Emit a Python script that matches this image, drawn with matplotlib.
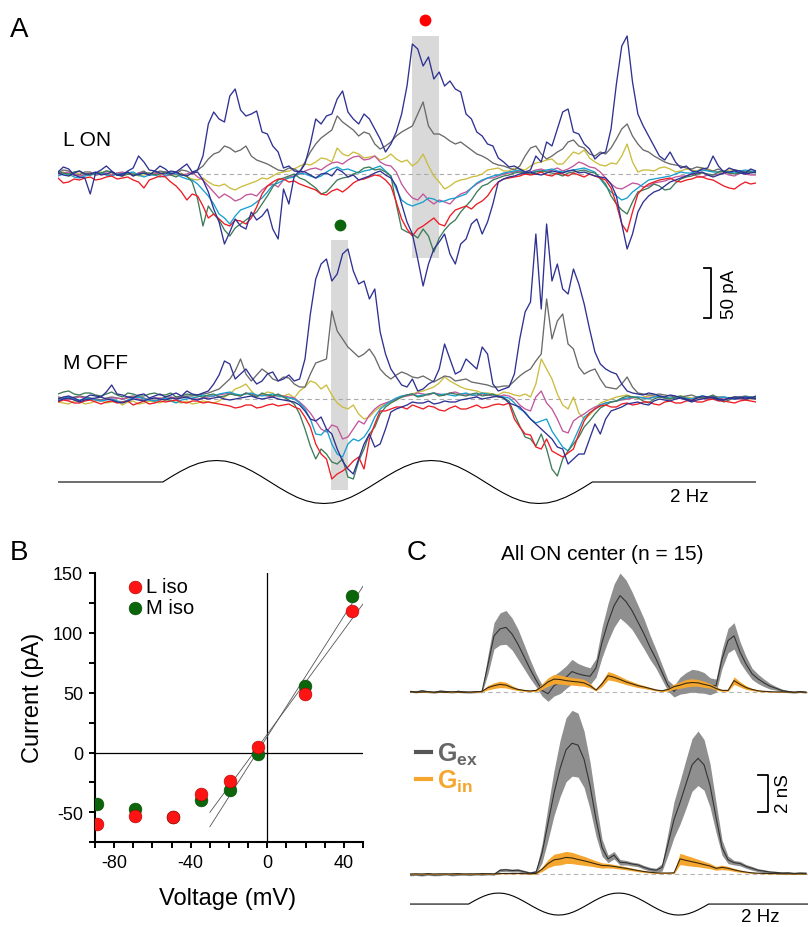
import numpy as np
import matplotlib.pyplot as plt
from matplotlib.lines import Line2D
from matplotlib.patches import Rectangle

plt.rcParams['font.family'] = ['Liberation Sans', 'DejaVu Sans']
plt.rcParams['axes.unicode_minus'] = False
plt.rcParams['mathtext.fontset'] = 'custom'
plt.rcParams['mathtext.rm'] = 'Liberation Sans'
plt.rcParams['mathtext.bf'] = 'Liberation Sans:bold'

W, H = 808, 928
dt = 0.025  # s per sample (panel C); panel A traces also have mid-samples

# ---------------- panel A: currents (pA, relative to baseline) ----------------
# *_mid hold the samples halfway between the main samples
lon_navy_pos = [2, 5, -3, -20, 4, 3, -2, 6, 12, 3, 5, 2, 10, 4,
                50, 55, 78, 64, 60, 42, 28, 6, 3, 10,
                55, 58, 75, 62, 50, 55, 35, 30, 60, 130,
                108, 95, 88, 85, 60, 42, 30, 16, 7, 5,
                4, 12, 28, 62, 42, 30, 15, 22, 90, 138,
                60, 38, 18, 22, 6, 3, 5, 18, 2, 4, 1, 3]
lon_navy_pos_mid = [7, -1, -4, 1, 8, -1, 3, 18, 4, 8, 0, 6, 2, 18, 62, 52, 85, 58, 63, 40,
                    22, 8, 2, 30, 50, 60, 83, 55, 60, 45, 22, 42, 88, 125, 117, 102, 93, 82, 55, 38,
                    28, 12, 8, 2, 18, 32, 45, 65, 40, 25, 20, 45, 128, 92, 48, 28, 14, 12, 8, 2,
                    6, 8, 6, 3, 5]
lon_gray = [1, 3, -1, 2, 0, 2, 1, -2, 3, 1, 2, 0, 3, 4,
            15, 22, 26, 24, 18, 12, 7, 3, 5, 12,
            30, 40, 58, 48, 38, 40, 25, 32, 42, 48,
            72, 40, 37, 30, 28, 20, 15, 9, 6, 8,
            26, 20, 18, 25, 34, 26, 18, 20, 35, 50,
            30, 22, 15, 10, 8, 5, 6, 3, 2, 4, 2, 3]
lon_gray_mid = [4, 0, 2, -1, 3, -1, 2, 1, -1, 3, 1, 4, 0, 8, 20, 28, 22, 28, 14, 10,
                4, 6, 2, 22, 36, 44, 52, 44, 42, 30, 28, 38, 45, 60, 48, 40, 33, 32, 24, 18,
                11, 8, 4, 18, 28, 15, 22, 32, 28, 20, 22, 26, 45, 38, 24, 18, 12, 9, 6, 7,
                4, 5, 1, 3, 2]
lon_yellow = [0, -2, 1, -1, 2, 0, -2, 1, -1, 0, 2, -1, -3, -6,
              -8, -12, -14, -13, -9, -4, -2, 2, 5, 10,
              12, 15, 26, 18, 20, 17, 14, 20, 12, 8,
              20, -2, -15, -8, -5, -2, 4, 6, 3, 5,
              8, 12, 15, 10, 22, 24, 12, 8, 10, 30,
              2, 4, 6, 5, 3, 4, 6, 3, 2, 4, 3, 2]
lon_yellow_mid = [2, -1, 0, 1, -1, 1, 0, -2, 1, -1, 0, 1, -5, -4, -11, -10, -16, -11, -7, -5,
                  1, 3, 8, 9, 16, 12, 20, 22, 16, 18, 16, 15, 14, 12, 8, -8, -12, -6, -3, 0,
                  5, 3, 6, 4, 11, 14, 10, 16, 20, 16, 9, 11, 18, 12, 4, 3, 7, 2, 5, 3,
                  5, 2, 4, 2, 3]
lon_magenta = [0, 2, -2, 1, 0, -1, 2, -1, 1, 0, -2, 1, 0, -3,
               -12, -24, -23, -25, -20, -16, -10, -6, -2, 3,
               6, 8, 12, 14, 18, 15, 12, 8, -10, -24,
               -20, -30, -28, -24, -18, -10, -4, -2, 1, 3,
               2, 5, 4, 3, 8, 10, 6, -4, -14, -12,
               -10, -12, -8, -5, -2, 0, -3, -1, 1, -2, 0, -1]
lon_magenta_mid = [1, 0, -1, -1, 1, 1, 0, 1, -1, 1, -1, -1, 2, -6, -18, -20, -27, -21, -22, -12,
                   -13, -3, 0, 5, 4, 11, 10, 17, 14, 18, 9, 2, -18, -26, -26, -26, -30, -20, -14, -7,
                   -4, 0, 2, 1, 4, 3, 6, 5, 12, 7, 2, -10, -15, -9, -13, -9, -7, -3, -2, -2,
                   -1, 0, -1, 1, -1]
lon_cyan = [-2, 0, -4, -1, 1, -2, 0, 2, -3, -1, -2, 0, -5, -10,
            -22, -40, -50, -36, -32, -24, -11, -6, -3, 0,
            -4, 2, 7, 5, 1, 4, 8, -2, -26, -32,
            -28, -25, -27, -24, -20, -9, -4, -1, 2, 4,
            1, 3, 5, 2, 4, 6, 2, -12, -22, -24,
            -14, -6, -4, -2, 2, 1, 4, 2, 3, 1, 4, 2]
lon_cyan_mid = [0, -3, -2, 0, -1, 0, 1, -1, -1, -3, 1, -3, -6, -16, -30, -44, -42, -34, -28, -18,
                -9, -4, 1, -2, -2, 5, 4, 3, 3, 6, 3, -15, -30, -30, -24, -28, -25, -22, -14, -6,
                -2, 1, 3, 2, 3, 4, 3, 3, 5, 4, -5, -18, -26, -18, -10, -5, -3, 0, 1, 3,
                3, 2, 2, 3, 3]
lon_green = [2, 0, 3, -1, 1, 2, -2, 0, 1, -1, 2, -3, -2, -25,
             -32, -46, -62, -50, -42, -30, -13, -4, 0, -6,
             -14, -18, -6, -3, 2, 7, 5, -2, -55, -60,
             -55, -78, -56, -46, -32, -18, -10, -4, -1, 2,
             0, 3, 1, -2, 2, 4, 1, -10, -30, -40,
             -18, -14, -12, -15, -5, -2, 1, -1, 3, 0, 2, 1]
lon_green_mid = [1, 2, 0, 1, 3, -1, 0, -1, 1, 0, -1, 0, -8, -52, -40, -56, -54, -46, -38, -22,
                 -6, -2, -4, -10, -20, -12, -4, 0, 6, 4, 2, -30, -58, -64, -62, -64, -50, -38, -26, -12,
                 -6, -2, 1, 1, 2, 2, 0, 1, 3, 2, -4, -22, -36, -28, -16, -10, -16, -9, -3, 0,
                 0, 2, 1, 1, 2]
lon_red = [-4, -8, -6, -3, -5, -2, -4, -6, -14, -4, -3, -12, -26, -22,
           -44, -45, -52, -47, -44, -20, -8, -5, -7, -12,
           -16, -21, -15, -14, -6, -3, -2, -12, -45, -62,
           -52, -44, -52, -36, -32, -30, -22, -8, -4, -2,
           -1, 2, -2, 0, 1, -3, -2, -6, -30, -58,
           -20, -10, -6, -4, -8, -5, -3, -6, -12, -15, -8, -9]
lon_red_mid = [-9, -5, -4, -6, -3, -5, -3, -8, -6, -2, -8, -18, -20, -32, -40, -50, -46, -50, -33, -12,
               -5, -8, -10, -14, -20, -17, -18, -9, -5, -1, -6, -28, -55, -55, -48, -50, -42, -34, -35, -27,
               -14, -5, -3, 0, 0, -1, 1, -2, -1, 0, -4, -14, -50, -38, -14, -8, -5, -7, -6, -3,
               -5, -9, -14, -11, -10]
lon_navy_neg = [1, -2, 3, 0, -1, 2, 0, -2, 1, 3, 0, 2, -2, 2,
                -18, -48, -58, -52, -38, -42, -55, -15, -2, 2,
                -4, 1, 5, -3, -6, -2, 3, -4, -30, -60,
                -112, -75, -60, -90, -65, -45, -48, -8, -3, 0,
                2, -1, 3, 1, 4, 2, -2, -4, -22, -75,
                -38, -22, -16, -8, -4, 0, 2, -3, 1, 3, 0, 2]
lon_navy_neg_mid = [-1, 1, 0, 2, 0, -1, 2, 0, -1, 1, 3, -1, 1, -6, -35, -70, -45, -55, -46, -35,
                    -65, -30, 3, -1, 0, -2, 2, -1, -4, 1, -1, -12, -48, -85, -90, -68, -80, -70, -50, -60,
                    -30, -5, -2, 1, 0, 1, 2, 3, 1, 0, -3, -10, -50, -60, -28, -18, -12, -6, -2, 1,
                    -1, -1, 2, 1, 1]

moff_navy_pos = [0, 3, -2, 4, 2, 14, 4, 1, 5, 3, 2, 6, 8, 4,
                 8, 24, 35, 25, 22, 18, 27, 20, 18, 40,
                 120, 140, 125, 150, 115, 100, 67, 30, 14, 20,
                 10, 18, 55, 25, 40, 30, 45, 8, 12, 60,
                 97, 90, 118, 110, 130, 95, 47, 30, 25, 8,
                 5, 6, 3, 4, 1, -2, 3, 1, -1, 2, 0, 3]
moff_navy_pos_mid = [2, 1, 1, 3, 7, 5, 2, 4, 1, 5, 4, 3, 5, 6, 15, 38, 20, 30, 15, 25,
                     18, 24, 20, 85, 135, 118, 145, 128, 118, 110, 45, 22, 12, 8, 15, 30, 40, 28, 35, 52,
                     15, 10, 25, 87, 165, 175, 135, 105, 115, 70, 35, 27, 15, 6, 4, 5, 2, 3, 0, 1,
                     2, -1, 1, 2, 1]
moff_gray = [2, 0, 3, 1, -1, 2, 0, 3, 1, -2, 2, 1, 3, 4,
             6, 10, 20, 40, 18, 30, 20, 22, 15, 12,
             36, 40, 68, 52, 42, 50, 30, 20, 27, 22,
             23, 17, 23, 18, 20, 16, 14, 12, 13, 23,
             30, 45, 60, 85, 50, 25, 30, 12, 10, 22,
             6, 4, 5, 3, 2, 4, 1, 3, 2, 0, 3, 1]
moff_gray_mid = [1, 2, 2, 0, 1, 1, 2, 2, -1, 0, 2, 2, 3, 5, 8, 15, 28, 25, 24, 26,
                 18, 21, 12, 25, 38, 88, 60, 47, 45, 42, 24, 24, 25, 21, 20, 20, 22, 19, 17, 15,
                 12, 13, 18, 27, 38, 100, 78, 55, 32, 28, 20, 11, 15, 12, 5, 4, 4, 2, 3, 2,
                 2, 2, 1, 2, 2]
moff_yellow = [-3, -5, -2, -4, -1, -3, -6, -2, -4, -3, -1, -3, -2, -4,
               -3, -2, 5, 12, 8, 4, 6, 3, 1, 12,
               16, 14, -4, -10, -15, -18, -8, -3, 2, 5,
               8, 12, 22, 15, 10, 8, 6, 4, 6, 3,
               2, 40, 20, -6, 2, -20, -10, -2, 2, 4,
               1, 3, 2, 0, 3, 1, 2, 0, -1, 2, 0, 1]
moff_yellow_mid = [-4, -2, -5, -2, -4, -2, -3, -5, -2, -4, -2, -4, -5, -2, -4, 2, 10, 15, 3, 7,
                   2, 5, 8, 18, 10, 4, -8, -6, -20, -12, -5, -1, 4, 7, 10, 16, 18, 12, 9, 6,
                   5, 7, 4, 5, 15, 30, 5, -10, -14, -16, -4, 0, 3, 2, 2, 3, 1, 2, 2, 1,
                   1, -1, 1, 1, 0]
moff_magenta = [1, -1, 2, 0, -2, 1, 0, 2, -1, 1, 0, 2, 1, 0,
                2, 4, 6, 3, 5, 4, 2, 3, 1, -8,
                -22, -33, -28, -38, -22, -16, -6, -2, 2, 4,
                5, 6, 4, 7, 5, 3, 4, 2, 3, -6,
                -12, 8, -10, -32, -22, -15, -8, -4, -2, 0,
                2, 1, 3, 0, 2, -1, 1, 2, 0, 1, -1, 0]
moff_magenta_mid = [0, 1, 1, -1, 0, 1, 1, 0, 0, 1, 1, 2, 0, 1, 3, 5, 4, 6, 3, 3,
                    4, 2, -3, -14, -30, -26, -40, -30, -25, -10, -4, 0, 3, 6, 4, 5, 6, 5, 4, 5,
                    3, 4, 0, -10, 2, -4, -20, -34, -18, -11, -6, -3, -1, 1, 1, 2, 1, 1, 0, 1,
                    0, 1, 0, 0, 1]
moff_cyan = [0, 2, -1, 1, -2, 0, -3, 1, 0, -2, 1, -4, 0, 2,
             3, 5, 7, 4, 6, 3, 5, 2, 0, -10,
             -35, -30, -55, -45, -42, -30, -10, -2, 3, 5,
             4, 6, 5, 3, 6, 4, 5, 3, 1, -10,
             -20, -22, -32, -48, -42, -18, -10, -4, -2, 1,
             2, 0, 3, 1, 2, 0, 3, 1, 2, 0, 2, 1]
moff_cyan_mid = [1, 0, 0, -1, -1, -2, -1, 2, -1, -1, -2, -1, 1, 4, 3, 6, 5, 5, 4, 4,
                 3, 1, -4, -20, -36, -45, -58, -40, -38, -18, -6, 1, 4, 3, 5, 4, 4, 5, 4, 6,
                 4, 2, -4, -13, -24, -20, -40, -52, -30, -14, -6, -3, 0, 2, 1, 2, 2, 1, 1, 2,
                 2, 1, 1, 1, 2]
moff_green = [5, 8, 4, 6, 3, 7, 2, 5, 3, 6, 4, 2, 5, 3,
              4, 2, 5, 3, 4, 6, 3, 2, -5, -30,
              -60, -55, -65, -78, -62, -35, -15, -4, 2, 5,
              3, 6, 4, 5, 3, 6, 4, 2, -2, -27,
              -40, -35, -70, -60, -45, -28, -15, -6, -2, 3,
              1, -4, 2, 0, 3, -2, 1, 4, -3, 2, 0, 1]
moff_green_mid = [7, 5, 6, 4, 5, 4, 6, 3, 5, 4, 6, 3, 4, 2, 5, 3, 4, 6, 2, 4,
                  5, -1, -15, -47, -50, -63, -60, -80, -50, -28, -8, -1, 4, 2, 5, 3, 6, 4, 5, 3,
                  5, 1, -15, -38, -47, -50, -77, -52, -38, -22, -9, -3, 1, 2, -2, 0, 1, 2, 0, 2,
                  2, 0, -1, 1, 2]
moff_red = [-3, -2, -4, -1, -5, -2, -3, -6, -2, -4, -3, -1, -4, -2,
            -3, -5, -7, -8, -6, -8, -5, -6, -8, -18,
            -45, -60, -75, -68, -58, -40, -12, -10, -8, -6,
            -10, -8, -12, -7, -10, -6, -8, -5, -4, -28,
            -36, -50, -52, -58, -50, -22, -10, -6, -8, -4,
            -5, -3, -6, -2, -4, -1, -3, 0, -2, -4, -1, -3]
moff_red_mid = [-1, -4, -2, -3, -3, -4, -2, -4, -5, -2, -2, -3, -2, -4, -4, -6, -9, -6, -9, -6,
                -7, -5, -10, -28, -55, -80, -72, -62, -70, -25, -12, -8, -10, -8, -7, -11, -9, -10, -8, -9,
                -6, -6, -20, -35, -48, -40, -55, -54, -35, -14, -7, -8, -5, -6, -3, -5, -3, -4, -2, -3,
                -1, -2, -3, -2, -2]
moff_navy_neg = [-2, 1, -3, 0, 2, -1, -4, 0, -2, 1, -1, 0, 2, -1,
                 0, 2, -1, 1, 3, 0, 2, -1, -3, -12,
                 -22, -30, -50, -70, -60, -35, -45, -13, -8, -3,
                 -4, -5, -2, -3, 0, 2, 1, 3, -4, -8,
                 -20, -30, -40, -50, -60, -55, -25, -20, -10, -5,
                 -3, -6, 0, -2, 1, -3, 0, 2, -1, 0, 2, 0]
moff_navy_neg_mid = [0, -1, -1, 1, 0, -3, -2, -1, 0, 0, 1, 1, 0, 1, 1, 0, 0, 2, 1, 1,
                     0, -2, -6, -20, -18, -35, -62, -75, -45, -48, -30, -10, -6, -4, -2, -4, -3, -1, 1, 0,
                     2, 1, -6, -14, -25, -35, -48, -65, -55, -40, -35, -12, -8, -4, -5, -2, -1, 0, -1, -1,
                     1, 0, 1, 1, 1]

win_lon = [0.824, 0.887]   # analysis windows (s)
win_moff = [0.636, 0.675]

# stimulus: 2 Hz modulation, two cycles
stim_start = 0.244
stim_val = [0, 0.26, 0.5, 0.71, 0.87, 0.97, 1, 0.97, 0.87, 0.71, 0.5, 0.26,
            0, -0.26, -0.5, -0.71, -0.87, -0.97, -1, -0.97, -0.87, -0.71, -0.5, -0.26,
            0, 0.26, 0.5, 0.71, 0.87, 0.97, 1, 0.97, 0.87, 0.71, 0.5, 0.26,
            0, -0.26, -0.5, -0.71, -0.87, -0.97, -1, -0.97, -0.87, -0.71, -0.5, -0.26, 0]

# ---------------- panel B: I-V ----------------
volt = [-89, -69, -49.5, -34.5, -19.5, -5, 19.5, 44.5]
cur_l = [-60, -53, -54, -35, -24, 5, 49, 118]
cur_m = [-43, -47, -54, -40, -31, -1, 56, 131]
fit_v = [-30, 50.4]
fit_l = [-50, 125]
fit_m = [-62, 140]

# ---------------- panel C: conductances (nS) ----------------
top_gex = [0.05, 0.02, 0.08, 0.03, 0.0, 0.06, 0.04, 0.01, 0.05, 0.02, 0.0, 0.03, 0.04,
           1.5, 3.0, 3.37, 3.45, 3.1, 2.55, 1.9, 1.24, 0.65, 0.1,
           -0.08, 0.35, 0.53, 0.8, 1.1, 0.98, 0.9, 0.85, 1.3, 2.66,
           3.72, 4.6, 5.14, 4.82, 4.34, 3.72, 3.1, 2.39, 1.77, 1.06,
           0.35, 0.05, 0.35, 0.5, 0.62, 0.57, 0.5, 0.32, 0.35, 1.77,
           2.75, 3.0, 2.13, 1.5, 0.98, 0.71, 0.5, 0.32, 0.21, 0.09,
           0.04, 0.0, 0.04, 0.0]
top_gex_sem = [0.05, 0.05, 0.06, 0.05, 0.05, 0.06, 0.05, 0.05, 0.06, 0.05, 0.05, 0.05, 0.06,
               0.5, 0.7, 0.85, 0.9, 0.85, 0.8, 0.65, 0.5, 0.35, 0.3,
               0.4, 0.55, 0.6, 0.6, 0.65, 0.55, 0.5, 0.45, 0.5, 0.8,
               1.0, 1.15, 1.2, 1.15, 1.0, 0.9, 0.8, 0.65, 0.5, 0.4,
               0.3, 0.3, 0.45, 0.55, 0.6, 0.6, 0.55, 0.45, 0.35, 0.5,
               0.65, 0.7, 0.55, 0.4, 0.3, 0.25, 0.2, 0.15, 0.1, 0.08,
               0.06, 0.05, 0.05, 0.05]
top_gin = [0.02, 0.0, 0.01, 0.02, 0.0, 0.01, 0.0, 0.02, 0.01, 0.0, 0.01, 0.02, 0.05,
           0.25, 0.35, 0.42, 0.38, 0.25, 0.15, 0.1, 0.07, 0.1, 0.3,
           0.55, 0.7, 0.68, 0.62, 0.58, 0.55, 0.5, 0.35, 0.12, 0.45,
           0.88, 0.8, 0.68, 0.55, 0.45, 0.35, 0.28, 0.2, 0.12, 0.08,
           0.15, 0.3, 0.38, 0.48, 0.52, 0.5, 0.42, 0.35, 0.2, 0.1,
           0.1, 0.62, 0.42, 0.25, 0.15, 0.08, 0.05, 0.03, 0.02, 0.02,
           0.01, 0.0, 0.01, 0.0]
top_gin_sem = [0.02, 0.02, 0.02, 0.02, 0.02, 0.02, 0.02, 0.02, 0.02, 0.02, 0.02, 0.02, 0.03,
               0.12, 0.15, 0.17, 0.15, 0.1, 0.06, 0.05, 0.04, 0.06, 0.15,
               0.22, 0.25, 0.24, 0.22, 0.2, 0.2, 0.18, 0.12, 0.05, 0.15,
               0.22, 0.2, 0.17, 0.14, 0.12, 0.1, 0.08, 0.06, 0.05, 0.04,
               0.08, 0.14, 0.17, 0.2, 0.2, 0.18, 0.16, 0.12, 0.08, 0.05,
               0.05, 0.2, 0.14, 0.1, 0.06, 0.04, 0.03, 0.02, 0.02, 0.02,
               0.02, 0.02, 0.02, 0.02]
bot_gex = [-0.05, -0.03, -0.06, -0.02, -0.05, -0.04, -0.01, -0.05, -0.03, -0.02, -0.04, -0.01, -0.03,
           0.0, -0.02, 0.2, 0.22, 0.18, 0.2, 0.12, 0.05, 0.1, 1.1,
           2.7, 4.3, 5.6, 6.6, 6.95, 6.85, 6.1, 4.7, 2.9, 1.4,
           0.8, 1.0, 0.62, 0.6, 0.53, 0.48, 0.35, 0.25, 0.2, 0.35,
           1.6, 2.9, 3.8, 4.8, 5.8, 6.15, 5.8, 4.7, 3.0, 1.4,
           0.75, 0.6, 0.55, 0.4, 0.3, 0.2, 0.15, 0.1, 0.08, 0.05,
           0.06, 0.03, 0.05, 0.04]
bot_gex_sem = [0.05, 0.05, 0.05, 0.05, 0.05, 0.05, 0.05, 0.05, 0.05, 0.05, 0.05, 0.05, 0.05,
               0.05, 0.05, 0.08, 0.08, 0.08, 0.08, 0.08, 0.06, 0.1, 0.5,
               0.9, 1.2, 1.5, 1.7, 1.75, 1.7, 1.5, 1.25, 0.9, 0.45,
               0.2, 0.2, 0.15, 0.12, 0.1, 0.1, 0.1, 0.1, 0.1, 0.2,
               0.6, 0.95, 1.15, 1.3, 1.4, 1.45, 1.35, 1.15, 0.8, 0.4,
               0.2, 0.12, 0.12, 0.1, 0.1, 0.08, 0.08, 0.06, 0.06, 0.06,
               0.05, 0.05, 0.05, 0.05]
bot_gin = [0.0, 0.01, 0.0, 0.02, 0.0, 0.01, 0.0, 0.01, 0.02, 0.0, 0.01, 0.0, 0.02,
           0.01, 0.0, 0.02, 0.03, 0.02, 0.03, 0.02, 0.01, 0.03, 0.25,
           0.55, 0.75, 0.8, 0.88, 0.85, 0.77, 0.7, 0.62, 0.53, 0.45,
           0.44, 0.4, 0.35, 0.3, 0.24, 0.18, 0.13, 0.09, 0.06, 0.05,
           0.05, 0.06, 0.8, 0.72, 0.65, 0.58, 0.5, 0.42, 0.3, 0.35,
           0.3, 0.22, 0.15, 0.1, 0.06, 0.04, 0.03, 0.02, 0.02, 0.01,
           0.01, 0.0, 0.01, 0.0]
bot_gin_sem = [0.02, 0.02, 0.02, 0.02, 0.02, 0.02, 0.02, 0.02, 0.02, 0.02, 0.02, 0.02, 0.02,
               0.02, 0.02, 0.02, 0.02, 0.02, 0.02, 0.02, 0.02, 0.03, 0.12,
               0.22, 0.3, 0.32, 0.32, 0.3, 0.27, 0.24, 0.2, 0.17, 0.14,
               0.12, 0.1, 0.09, 0.08, 0.07, 0.06, 0.05, 0.04, 0.03, 0.03,
               0.03, 0.04, 0.3, 0.27, 0.24, 0.2, 0.17, 0.14, 0.1, 0.12,
               0.1, 0.08, 0.06, 0.04, 0.03, 0.02, 0.02, 0.02, 0.02, 0.02,
               0.02, 0.02, 0.02, 0.02]

# ---------------- styles ----------------
c_navy = '#2e3192'
c_gray = '#6a6a6a'
c_yel = '#cbbd3e'
c_mag = '#c2569a'
c_cyan = '#15a0cf'
c_grn = '#3e7b59'
c_red = '#ed1c24'
c_org = '#f5a62e'

fig = plt.figure(figsize=(W / 100, H / 100), dpi=100)
fig.patch.set_facecolor('white')


def px_axes(left, top, right, bottom):
    return fig.add_axes([left / W, 1 - bottom / H, (right - left) / W, (bottom - top) / H])


def px_text(x, y, s, **kw):
    return fig.text(x / W, 1 - y / H, s, **kw)


def weave(main, mid):
    out = np.empty(len(main) + len(mid))
    out[0::2] = main
    out[1::2] = mid
    return out


def stim_trace(ax, base, amp, t_end):
    ts = stim_start + np.arange(len(stim_val)) * (1.0 / 48)
    tt = np.concatenate([[0], ts, [t_end]])
    vv = np.concatenate([[0], stim_val, [0]])
    ax.plot(tt, base + amp * vv, color='k', lw=0.8)


# ================= A =================
ax_a = px_axes(58, 0, 756, 515)
ax_a.set_xlim(0, 1.625)
ax_a.set_ylim(-340, 175)
ax_a.axis('off')
t_a = np.arange(2 * len(lon_red) - 1) * dt / 2
off_m = -225

ax_a.add_patch(Rectangle((win_lon[0], -84), win_lon[1] - win_lon[0], 222,
                         facecolor='#d9d9d9', lw=0, zorder=0))
ax_a.add_patch(Rectangle((win_moff[0], -316), win_moff[1] - win_moff[0], 250,
                         facecolor='#d9d9d9', lw=0, zorder=0))
for base in (0, off_m):
    ax_a.axhline(base, color='#aaaaaa', lw=0.8, ls=(0, (4, 3)), zorder=1)

lon_sets = [(lon_yellow, lon_yellow_mid, c_yel), (lon_gray, lon_gray_mid, c_gray),
            (lon_magenta, lon_magenta_mid, c_mag), (lon_cyan, lon_cyan_mid, c_cyan),
            (lon_green, lon_green_mid, c_grn), (lon_red, lon_red_mid, c_red),
            (lon_navy_neg, lon_navy_neg_mid, c_navy), (lon_navy_pos, lon_navy_pos_mid, c_navy)]
moff_sets = [(moff_yellow, moff_yellow_mid, c_yel), (moff_gray, moff_gray_mid, c_gray),
             (moff_magenta, moff_magenta_mid, c_mag), (moff_cyan, moff_cyan_mid, c_cyan),
             (moff_green, moff_green_mid, c_grn), (moff_red, moff_red_mid, c_red),
             (moff_navy_neg, moff_navy_neg_mid, c_navy), (moff_navy_pos, moff_navy_pos_mid, c_navy)]
for k, (vals, mids, col) in enumerate(lon_sets):
    ax_a.plot(t_a, weave(vals, mids), color=col, lw=0.95, zorder=2 + k)
for k, (vals, mids, col) in enumerate(moff_sets):
    ax_a.plot(t_a, weave(vals, mids) + off_m, color=col, lw=0.95, zorder=2 + k)

ax_a.plot(np.mean(win_lon), 154, 'o', color='#ff0000', ms=8.5, mec='none')
ax_a.plot(np.mean(win_moff), -51, 'o', color='#0b650b', ms=8.5, mec='none')

# 50 pA scale bar
ax_a.plot([1.504, 1.520, 1.520, 1.504], [-94, -94, -144, -144], color='k', lw=1.3)
stim_trace(ax_a, -308, 21.5, 1.625)

px_text(10, 37, 'A', fontsize=20, va='baseline')
px_text(63, 146, 'L ON', fontsize=15, va='baseline')
px_text(63, 369, 'M OFF', fontsize=15, va='baseline')
px_text(729, 294, '50 pA', fontsize=13.5, rotation=90, ha='center', va='center')
px_text(689, 502, '2 Hz', fontsize=13.5, ha='center', va='baseline')

# ================= B =================
ax_b = px_axes(95, 574, 363, 843.3)
ax_b.set_xlim(-90, 50)
ax_b.set_ylim(-75, 150)
for s in ('top', 'right'):
    ax_b.spines[s].set_visible(False)
for s in ('left', 'bottom'):
    ax_b.spines[s].set_linewidth(1.5)
xt = np.arange(-90, 51, 10)
yt = np.arange(-75, 151, 25)
ax_b.set_xticks(xt)
ax_b.set_xticklabels([str(v) if v in (-80, -40, 0, 40) else '' for v in xt])
ax_b.set_yticks(yt)
ax_b.set_yticklabels([str(v) if v % 50 == 0 else '' for v in yt])
ax_b.tick_params(length=4, width=1.4, labelsize=13, pad=4.5)
ax_b.axhline(0, color='k', lw=0.9)
ax_b.axvline(0, color='k', lw=0.9)
ax_b.plot(fit_v, fit_l, color='#555555', lw=0.6)
ax_b.plot(fit_v, fit_m, color='#555555', lw=0.6)
hm = ax_b.scatter(volt, cur_m, s=85, color='#0b650b', edgecolors='#084a08', linewidths=0.4,
                  zorder=5, label='M iso')
hl = ax_b.scatter(volt, cur_l, s=85, color='#ff1414', edgecolors='#b00000', linewidths=0.4,
                  zorder=6, label='L iso')
ax_b.legend(handles=[hl, hm], loc='upper left', bbox_to_anchor=(0.11, 0.985), frameon=False,
            handletextpad=0.05, borderpad=0, borderaxespad=0, labelspacing=0.12,
            handlelength=1.0, fontsize=14.5, scatterpoints=1)
px_text(32.5, 698, 'Current (pA)', fontsize=17, rotation=90, ha='center', va='center')
px_text(228, 905, 'Voltage (mV)', fontsize=17, ha='center', va='baseline')
px_text(10, 560, 'B', fontsize=20, va='baseline')

# ================= C =================
ax_c = px_axes(410, 565, 808, 928)
ax_c.set_xlim(0, 1.658)
ax_c.set_ylim(-12.48, 6.82)
ax_c.axis('off')
t_c = np.arange(len(top_gex)) * dt
off_b = -9.66
for base in (0, off_b):
    ax_c.axhline(base, color='#b5b5b5', lw=0.8, ls=(0, (4, 3)), zorder=1)
for gex, gsem, gin, isem, base in [(top_gex, top_gex_sem, top_gin, top_gin_sem, 0),
                                  (bot_gex, bot_gex_sem, bot_gin, bot_gin_sem, off_b)]:
    gex = np.array(gex) + base
    gin = np.array(gin) + base
    ax_c.fill_between(t_c, gex - np.array(gsem), gex + np.array(gsem), color='#8f8f8f', lw=0, zorder=2)
    ax_c.plot(t_c, gex, color='#333333', lw=0.8, zorder=3)
    ax_c.fill_between(t_c, gin - np.array(isem), gin + np.array(isem), color=c_org, lw=0, zorder=4)
    ax_c.plot(t_c, gin, color='#3a2a10', lw=0.8, zorder=5)

stim_trace(ax_c, -11.26, 0.585, 1.658)
# 2 nS scale bar
ax_c.plot([1.45, 1.492, 1.492, 1.45], [-4.38, -4.38, -6.38, -6.38], color='k', lw=1.3)

leg_h = [Line2D([], [], color='#555555', lw=3), Line2D([], [], color=c_org, lw=3)]
ax_c.legend(leg_h, [r'$\mathbf{G}_{\mathbf{ex}}$', r'$\mathbf{G}_{\mathbf{in}}$'],
            loc='center left', bbox_to_anchor=(0.015, 0.44), frameon=False,
            handlelength=0.6, handletextpad=0.25, labelspacing=0.05, borderpad=0,
            borderaxespad=0, fontsize=18, labelcolor=['#666666', c_org])

px_text(602, 560, 'All ON center (n = 15)', fontsize=15, ha='center', va='baseline')
px_text(784, 794, '2 nS', fontsize=13.5, rotation=90, ha='center', va='center')
px_text(760, 922, '2 Hz', fontsize=13.5, ha='center', va='baseline')
px_text(407, 560, 'C', fontsize=20, va='baseline')

fig.savefig('out.png', dpi=100)
